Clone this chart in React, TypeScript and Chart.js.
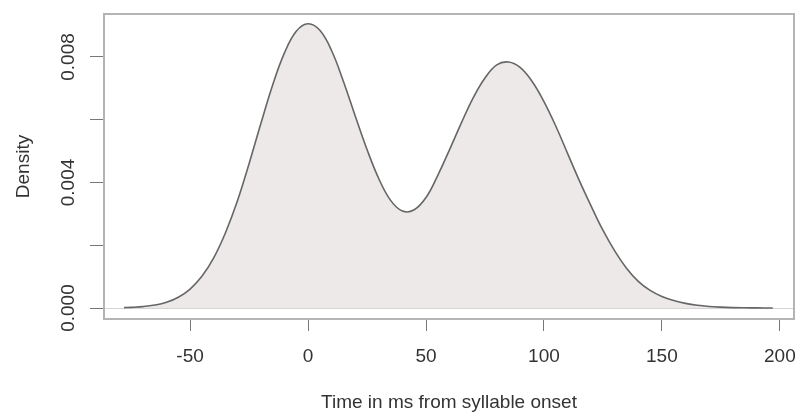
import React, { useEffect, useRef } from "react";
import { Chart, registerables } from "chart.js";

Chart.register(...registerables);

// Time (ms from syllable onset) and estimated kernel density values
const timeMs = [
  -78, -75, -70, -65, -60, -55, -50, -45, -40, -35, -30, -25, -20, -15, -10, -5,
  0, 5, 10, 15, 20, 25, 30, 35, 40, 45, 50, 55, 60, 65, 70, 75, 80, 85, 90,
  95, 100, 105, 110, 115, 120, 125, 130, 135, 140, 145, 150, 155, 160, 165, 170,
  175, 180, 185, 190, 197,
];
const density = [
  0.000013, 0.000021, 0.000045, 0.000094, 0.000184, 0.000344, 0.000605, 0.00101,
  0.0016, 0.0024, 0.0034, 0.0046, 0.00588, 0.00711, 0.00813, 0.00882,
  0.00906, 0.00885, 0.0082, 0.00722, 0.00612, 0.00505, 0.00412, 0.00343, 0.00309,
  0.00313, 0.00352, 0.00423, 0.00505, 0.0059, 0.0067, 0.00733, 0.00775, 0.00784,
  0.00766, 0.00722, 0.00658, 0.0058, 0.00493, 0.00406, 0.00325, 0.00248,
  0.00182, 0.00127, 0.00085, 0.00056, 0.00037, 0.00024, 0.000148, 0.000087,
  0.000049, 0.000027, 0.000014, 0.000007, 0.0000035, 0.0000012,
];

const xTickValues = [-50, 0, 50, 100, 150, 200];
const yTickValues = [0, 0.002, 0.004, 0.006, 0.008];
const yLabelValues = [0, 0.004, 0.008];

const xTitle = "Time in ms from syllable onset";
const yTitle = "Density";

const FONT = "'Liberation Sans', Arial, Helvetica, sans-serif";

const boxPlugin = {
  id: "rbox",
  afterDraw(chart: any) {
    const { ctx, chartArea } = chart;
    ctx.save();
    ctx.strokeStyle = "#b4b4b4";
    ctx.lineWidth = 2;
    ctx.strokeRect(
      chartArea.left,
      chartArea.top,
      chartArea.right - chartArea.left,
      chartArea.bottom - chartArea.top
    );
    ctx.restore();
  },
};

export default function App() {
  const ref = useRef<HTMLCanvasElement | null>(null);

  useEffect(() => {
    if (!ref.current) return;
    const chart = new Chart(ref.current, {
      type: "line",
      data: {
        datasets: [
          {
            data: timeMs.map((t, i) => ({ x: t, y: density[i] })),
            borderColor: "#666666",
            borderWidth: 1.6,
            backgroundColor: "#ede9e9",
            fill: "origin",
            pointRadius: 0,
            tension: 0.4,
          },
        ],
      },
      options: {
        responsive: false,
        animation: false,
        events: [],
        layout: { padding: { left: 0, top: 14, right: 1, bottom: 0 } },
        plugins: {
          legend: { display: false },
          tooltip: { enabled: false },
        },
        scales: {
          x: {
            type: "linear",
            min: -86.5,
            max: 206,
            afterFit: (s: any) => {
              s.height = 93;
              s.paddingLeft = 0;
              s.paddingRight = 0;
            },
            afterBuildTicks: (s: any) => {
              s.ticks = xTickValues.map((v) => ({ value: v }));
            },
            border: { display: false },
            grid: {
              drawOnChartArea: false,
              drawTicks: true,
              tickLength: 12,
              tickColor: "#777777",
              tickWidth: 1,
            },
            ticks: {
              autoSkip: false,
              maxRotation: 0,
              padding: 14,
              color: "#333333",
              font: { family: FONT, size: 19 },
              callback: (v: any) => String(v),
            },
            title: {
              display: true,
              text: xTitle,
              color: "#333333",
              font: { family: FONT, size: 19, lineHeight: 1 },
              padding: { top: 0, bottom: 0 },
            },
          },
          y: {
            type: "linear",
            min: -0.00035,
            max: 0.00937,
            afterFit: (s: any) => {
              s.width = 104;
              s.paddingTop = 0;
              s.paddingBottom = 0;
            },
            afterBuildTicks: (s: any) => {
              s.ticks = yTickValues.map((v) => ({ value: v }));
            },
            border: { display: false },
            grid: {
              drawOnChartArea: true,
              drawTicks: true,
              tickLength: 14,
              tickColor: "#777777",
              tickWidth: 1,
              color: (c: any) =>
                c.tick && c.tick.value === 0 ? "#d4d4d4" : "rgba(0,0,0,0)",
            },
            ticks: {
              autoSkip: false,
              minRotation: 90,
              maxRotation: 90,
              crossAlign: "center",
              padding: -3,
              color: "#333333",
              font: { family: FONT, size: 19 },
              callback: (v: any) =>
                yLabelValues.some((l) => Math.abs(l - v) < 1e-9)
                  ? Number(v).toFixed(3)
                  : "",
            },
            title: {
              display: true,
              text: yTitle,
              color: "#333333",
              font: { family: FONT, size: 19, lineHeight: 1 },
              padding: { top: 14.5, bottom: 0 },
            },
          },
        },
      },
      plugins: [boxPlugin],
    });
    return () => chart.destroy();
  }, []);

  return (
    <div
      style={{
        position: "absolute",
        left: 0,
        top: 0,
        width: 795,
        height: 412,
        background: "#ffffff",
      }}
    >
      <canvas ref={ref} width={795} height={412} style={{ display: "block" }} />
    </div>
  );
}
